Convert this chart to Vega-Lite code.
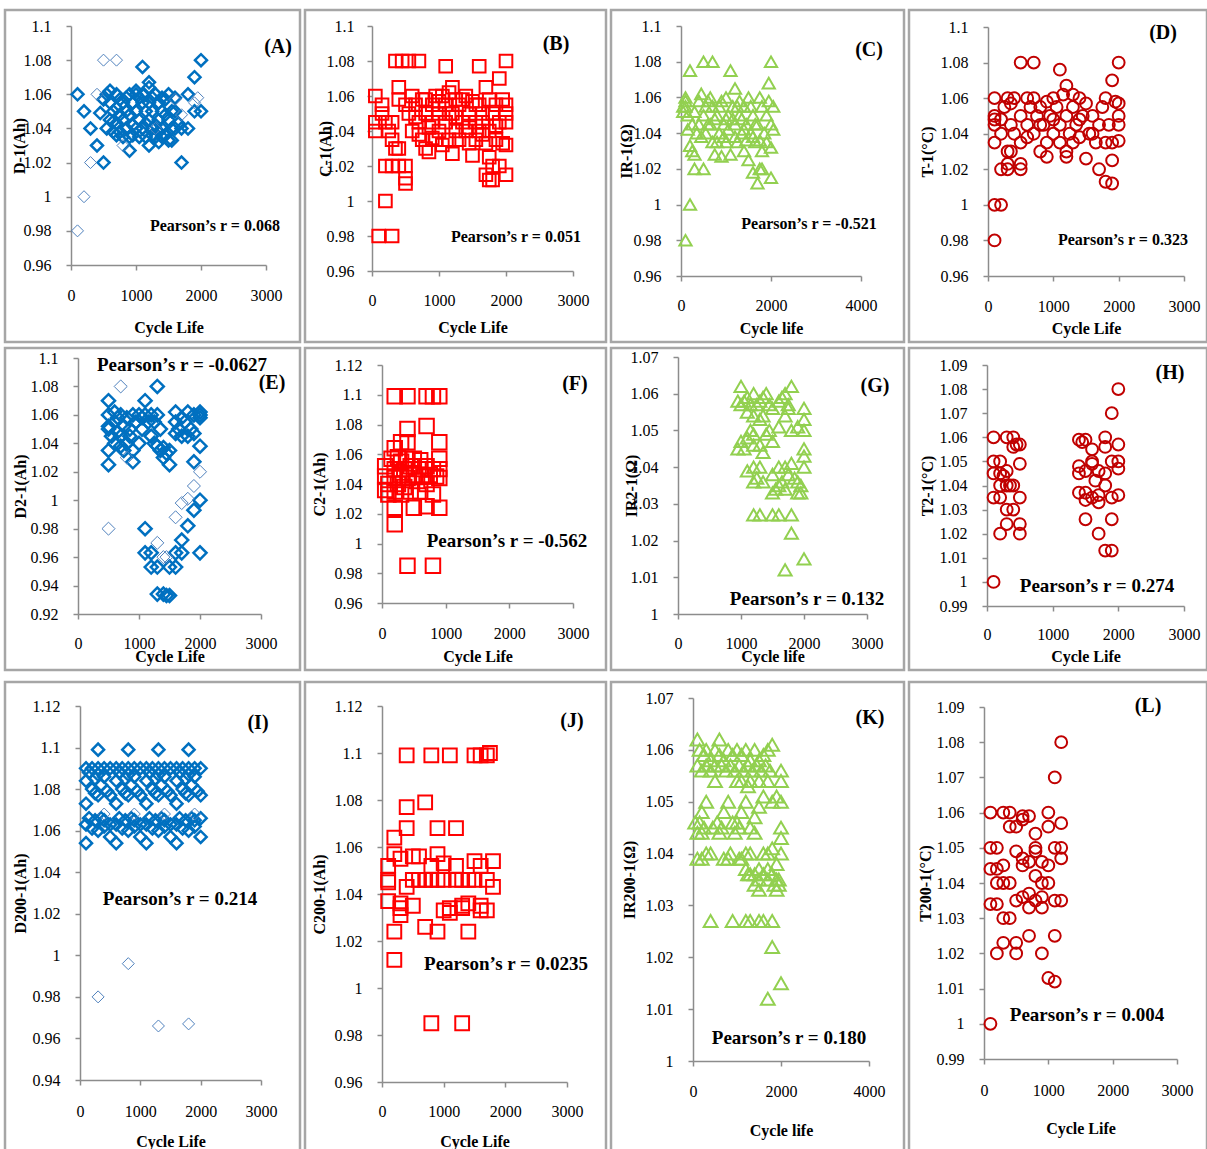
{
"$schema": "https://vega.github.io/schema/vega-lite/v6.json",
"padding": {"left": 3, "top": 8, "right": 0, "bottom": 0},
"background": "white",
"config": {
 "view": {"stroke": "#A6A6A6", "strokeWidth": 2.5},
 "axis": {"grid": false, "domainColor": "#8C8C8C", "tickColor": "#8C8C8C", "domainWidth": 1.5, "tickWidth": 1.5, "tickSize": 5, "labelFont": "Liberation Serif", "labelFontSize": 16, "labelColor": "#000000", "titleFont": "Liberation Serif", "titleFontSize": 16, "titleFontWeight": "bold", "titleColor": "#000000", "labelOverlap": false, "labelFlush": false, "labelPadding": 15},
 "text": {"font": "Liberation Serif", "fontWeight": "bold", "color": "#000000"},
 "point": {"filled": false, "opacity": 1}
},
"datasets": {
 "A": [{"x":100,"y":1.06},{"x":200,"y":1.05},{"x":300,"y":1.04},{"x":400,"y":1.03},{"x":500,"y":1.02},{"x":450,"y":1.049},{"x":500,"y":1.057},{"x":550,"y":1.04},{"x":550,"y":1.06},{"x":600,"y":1.062},{"x":600,"y":1.045},{"x":600,"y":1.055},{"x":650,"y":1.05},{"x":650,"y":1.038},{"x":700,"y":1.06},{"x":700,"y":1.043},{"x":700,"y":1.036},{"x":700,"y":1.052},{"x":750,"y":1.048},{"x":750,"y":1.038},{"x":800,"y":1.055},{"x":800,"y":1.035},{"x":800,"y":1.045},{"x":850,"y":1.05},{"x":850,"y":1.04},{"x":850,"y":1.058},{"x":900,"y":1.027},{"x":900,"y":1.06},{"x":900,"y":1.035},{"x":900,"y":1.048},{"x":950,"y":1.055},{"x":950,"y":1.042},{"x":1000,"y":1.06},{"x":1000,"y":1.04},{"x":1000,"y":1.05},{"x":1000,"y":1.062},{"x":1050,"y":1.058},{"x":1050,"y":1.045},{"x":1050,"y":1.035},{"x":1100,"y":1.076},{"x":1100,"y":1.055},{"x":1100,"y":1.04},{"x":1100,"y":1.06},{"x":1150,"y":1.05},{"x":1150,"y":1.035},{"x":1200,"y":1.067},{"x":1200,"y":1.064},{"x":1200,"y":1.03},{"x":1200,"y":1.045},{"x":1200,"y":1.055},{"x":1250,"y":1.04},{"x":1250,"y":1.05},{"x":1250,"y":1.036},{"x":1300,"y":1.06},{"x":1300,"y":1.042},{"x":1300,"y":1.035},{"x":1350,"y":1.055},{"x":1350,"y":1.045},{"x":1350,"y":1.038},{"x":1400,"y":1.058},{"x":1400,"y":1.04},{"x":1400,"y":1.05},{"x":1400,"y":1.035},{"x":1450,"y":1.048},{"x":1450,"y":1.036},{"x":1500,"y":1.06},{"x":1500,"y":1.033},{"x":1500,"y":1.045},{"x":1550,"y":1.04},{"x":1550,"y":1.05},{"x":1600,"y":1.05},{"x":1600,"y":1.04},{"x":1650,"y":1.043},{"x":1700,"y":1.04},{"x":1700,"y":1.02},{"x":1800,"y":1.06},{"x":1800,"y":1.04},{"x":1900,"y":1.07},{"x":1900,"y":1.05},{"x":2000,"y":1.08},{"x":2000,"y":1.05},{"x":650,"y":1.044},{"x":750,"y":1.057},{"x":950,"y":1.036},{"x":1150,"y":1.043},{"x":1250,"y":1.058},{"x":1350,"y":1.032},{"x":1450,"y":1.057},{"x":1550,"y":1.033},{"x":1600,"y":1.058}],
 "A2": [{"x":100,"y":0.98},{"x":200,"y":1.0},{"x":300,"y":1.02},{"x":400,"y":1.06},{"x":500,"y":1.08},{"x":700,"y":1.08},{"x":800,"y":1.03},{"x":1300,"y":1.04},{"x":1600,"y":1.057},{"x":1700,"y":1.048},{"x":1950,"y":1.058},{"x":1900,"y":1.055}],
 "B": [{"x":50,"y":1.06},{"x":50,"y":1.045},{"x":50,"y":1.04},{"x":100,"y":0.98},{"x":300,"y":0.98},{"x":200,"y":1.0},{"x":150,"y":1.055},{"x":150,"y":1.05},{"x":200,"y":1.045},{"x":250,"y":1.04},{"x":300,"y":1.045},{"x":200,"y":1.02},{"x":300,"y":1.02},{"x":400,"y":1.02},{"x":500,"y":1.02},{"x":500,"y":1.013},{"x":500,"y":1.01},{"x":350,"y":1.03},{"x":400,"y":1.03},{"x":300,"y":1.035},{"x":400,"y":1.065},{"x":350,"y":1.08},{"x":450,"y":1.08},{"x":550,"y":1.08},{"x":700,"y":1.08},{"x":400,"y":1.058},{"x":500,"y":1.055},{"x":550,"y":1.05},{"x":600,"y":1.06},{"x":600,"y":1.04},{"x":650,"y":1.055},{"x":700,"y":1.045},{"x":700,"y":1.038},{"x":750,"y":1.058},{"x":750,"y":1.035},{"x":800,"y":1.03},{"x":800,"y":1.05},{"x":850,"y":1.042},{"x":850,"y":1.028},{"x":900,"y":1.055},{"x":900,"y":1.045},{"x":950,"y":1.06},{"x":950,"y":1.035},{"x":1000,"y":1.05},{"x":1000,"y":1.04},{"x":1050,"y":1.06},{"x":1050,"y":1.032},{"x":1100,"y":1.077},{"x":1100,"y":1.055},{"x":1100,"y":1.045},{"x":1150,"y":1.062},{"x":1150,"y":1.035},{"x":1200,"y":1.065},{"x":1200,"y":1.05},{"x":1200,"y":1.027},{"x":1250,"y":1.058},{"x":1250,"y":1.04},{"x":1300,"y":1.055},{"x":1300,"y":1.035},{"x":1350,"y":1.045},{"x":1400,"y":1.06},{"x":1400,"y":1.04},{"x":1450,"y":1.05},{"x":1450,"y":1.033},{"x":1500,"y":1.057},{"x":1500,"y":1.026},{"x":1550,"y":1.045},{"x":1550,"y":1.035},{"x":1600,"y":1.077},{"x":1600,"y":1.055},{"x":1600,"y":1.04},{"x":1650,"y":1.05},{"x":1650,"y":1.045},{"x":1700,"y":1.065},{"x":1700,"y":1.033},{"x":1700,"y":1.015},{"x":1750,"y":1.058},{"x":1750,"y":1.04},{"x":1750,"y":1.025},{"x":1750,"y":1.012},{"x":1800,"y":1.05},{"x":1800,"y":1.02},{"x":1800,"y":1.012},{"x":1850,"y":1.055},{"x":1850,"y":1.035},{"x":1850,"y":1.043},{"x":1900,"y":1.07},{"x":1900,"y":1.045},{"x":1900,"y":1.02},{"x":1950,"y":1.058},{"x":1950,"y":1.033},{"x":2000,"y":1.08},{"x":2000,"y":1.055},{"x":2000,"y":1.05},{"x":2000,"y":1.045},{"x":2000,"y":1.032},{"x":2000,"y":1.015},{"x":650,"y":1.048},{"x":800,"y":1.058},{"x":900,"y":1.036},{"x":1000,"y":1.057},{"x":1150,"y":1.05},{"x":1250,"y":1.048},{"x":1350,"y":1.058},{"x":1450,"y":1.042},{"x":1550,"y":1.055},{"x":1650,"y":1.038}],
 "C": [{"x":50,"y":1.055},{"x":50,"y":1.052},{"x":100,"y":1.06},{"x":100,"y":1.058},{"x":100,"y":1.055},{"x":150,"y":1.05},{"x":150,"y":1.042},{"x":200,"y":1.075},{"x":100,"y":0.98},{"x":200,"y":1.0},{"x":200,"y":1.033},{"x":250,"y":1.03},{"x":300,"y":1.02},{"x":300,"y":1.028},{"x":500,"y":1.02},{"x":350,"y":1.04},{"x":400,"y":1.045},{"x":400,"y":1.058},{"x":450,"y":1.062},{"x":500,"y":1.08},{"x":700,"y":1.08},{"x":500,"y":1.05},{"x":550,"y":1.04},{"x":600,"y":1.058},{"x":650,"y":1.045},{"x":700,"y":1.035},{"x":700,"y":1.055},{"x":750,"y":1.028},{"x":800,"y":1.05},{"x":850,"y":1.04},{"x":900,"y":1.027},{"x":900,"y":1.058},{"x":950,"y":1.045},{"x":1000,"y":1.035},{"x":1000,"y":1.06},{"x":1050,"y":1.05},{"x":1100,"y":1.075},{"x":1100,"y":1.028},{"x":1150,"y":1.055},{"x":1200,"y":1.065},{"x":1200,"y":1.045},{"x":1250,"y":1.035},{"x":1300,"y":1.058},{"x":1300,"y":1.05},{"x":1350,"y":1.04},{"x":1400,"y":1.03},{"x":1400,"y":1.055},{"x":1450,"y":1.045},{"x":1500,"y":1.025},{"x":1500,"y":1.06},{"x":1550,"y":1.04},{"x":1600,"y":1.018},{"x":1600,"y":1.05},{"x":1650,"y":1.035},{"x":1700,"y":1.012},{"x":1700,"y":1.045},{"x":1750,"y":1.06},{"x":1750,"y":1.02},{"x":1800,"y":1.02},{"x":1800,"y":1.03},{"x":1800,"y":1.055},{"x":1850,"y":1.04},{"x":1900,"y":1.035},{"x":1900,"y":1.05},{"x":1950,"y":1.068},{"x":1950,"y":1.058},{"x":2000,"y":1.08},{"x":2000,"y":1.015},{"x":2000,"y":1.045},{"x":2050,"y":1.055},{"x":2050,"y":1.042},{"x":2000,"y":1.032},{"x":600,"y":1.045},{"x":800,"y":1.035},{"x":1000,"y":1.048},{"x":1200,"y":1.038},{"x":1400,"y":1.042},{"x":1600,"y":1.038},{"x":300,"y":1.052},{"x":250,"y":1.045},{"x":450,"y":1.038},{"x":550,"y":1.055},{"x":650,"y":1.06},{"x":750,"y":1.048},{"x":850,"y":1.055},{"x":950,"y":1.038},{"x":1050,"y":1.042},{"x":1150,"y":1.048},{"x":1250,"y":1.055},{"x":1350,"y":1.048},{"x":1450,"y":1.036},{"x":1550,"y":1.055},{"x":1650,"y":1.045},{"x":1750,"y":1.036}],
 "D": [{"x":100,"y":1.06},{"x":100,"y":1.05},{"x":100,"y":1.048},{"x":100,"y":1.045},{"x":100,"y":1.035},{"x":100,"y":0.98},{"x":100,"y":1.0},{"x":200,"y":1.0},{"x":200,"y":1.02},{"x":200,"y":1.048},{"x":200,"y":1.04},{"x":250,"y":1.055},{"x":300,"y":1.02},{"x":300,"y":1.023},{"x":300,"y":1.03},{"x":300,"y":1.06},{"x":350,"y":1.057},{"x":350,"y":1.045},{"x":350,"y":1.03},{"x":400,"y":1.06},{"x":400,"y":1.04},{"x":500,"y":1.02},{"x":500,"y":1.023},{"x":500,"y":1.035},{"x":500,"y":1.08},{"x":500,"y":1.05},{"x":600,"y":1.06},{"x":600,"y":1.045},{"x":650,"y":1.055},{"x":700,"y":1.08},{"x":700,"y":1.06},{"x":700,"y":1.04},{"x":750,"y":1.05},{"x":800,"y":1.03},{"x":800,"y":1.055},{"x":850,"y":1.045},{"x":900,"y":1.027},{"x":900,"y":1.035},{"x":900,"y":1.058},{"x":950,"y":1.05},{"x":1000,"y":1.06},{"x":1000,"y":1.04},{"x":1050,"y":1.055},{"x":1100,"y":1.076},{"x":1100,"y":1.045},{"x":1100,"y":1.035},{"x":1150,"y":1.062},{"x":1200,"y":1.067},{"x":1200,"y":1.027},{"x":1200,"y":1.03},{"x":1200,"y":1.05},{"x":1250,"y":1.04},{"x":1300,"y":1.055},{"x":1300,"y":1.035},{"x":1350,"y":1.045},{"x":1400,"y":1.06},{"x":1400,"y":1.038},{"x":1450,"y":1.05},{"x":1500,"y":1.026},{"x":1500,"y":1.057},{"x":1550,"y":1.04},{"x":1600,"y":1.05},{"x":1650,"y":1.035},{"x":1700,"y":1.02},{"x":1700,"y":1.045},{"x":1750,"y":1.055},{"x":1800,"y":1.013},{"x":1800,"y":1.06},{"x":1800,"y":1.035},{"x":1850,"y":1.045},{"x":1900,"y":1.012},{"x":1900,"y":1.025},{"x":1900,"y":1.07},{"x":1900,"y":1.035},{"x":1950,"y":1.058},{"x":2000,"y":1.08},{"x":2000,"y":1.057},{"x":2000,"y":1.05},{"x":2000,"y":1.045},{"x":2000,"y":1.036},{"x":600,"y":1.038},{"x":1000,"y":1.048},{"x":1400,"y":1.048},{"x":1600,"y":1.04},{"x":1300,"y":1.062},{"x":800,"y":1.045}],
 "E": [{"x":500,"y":1.07},{"x":500,"y":1.06},{"x":500,"y":1.052},{"x":500,"y":1.05},{"x":500,"y":1.035},{"x":500,"y":1.025},{"x":550,"y":1.045},{"x":600,"y":1.062},{"x":600,"y":1.055},{"x":600,"y":1.04},{"x":650,"y":1.058},{"x":650,"y":1.048},{"x":700,"y":1.06},{"x":700,"y":1.045},{"x":700,"y":1.038},{"x":750,"y":1.052},{"x":750,"y":1.035},{"x":800,"y":1.058},{"x":800,"y":1.04},{"x":850,"y":1.05},{"x":850,"y":1.045},{"x":900,"y":1.06},{"x":900,"y":1.027},{"x":900,"y":1.035},{"x":950,"y":1.055},{"x":1000,"y":1.06},{"x":1000,"y":1.04},{"x":1050,"y":1.058},{"x":1050,"y":1.05},{"x":1100,"y":1.07},{"x":1100,"y":1.06},{"x":1150,"y":1.055},{"x":1200,"y":1.06},{"x":1200,"y":1.045},{"x":1250,"y":1.04},{"x":1250,"y":1.055},{"x":1300,"y":1.08},{"x":1300,"y":1.06},{"x":1300,"y":1.038},{"x":1350,"y":1.035},{"x":1350,"y":1.05},{"x":1400,"y":1.03},{"x":1400,"y":1.037},{"x":1450,"y":1.033},{"x":1500,"y":1.025},{"x":1500,"y":1.035},{"x":1600,"y":1.062},{"x":1600,"y":1.055},{"x":1600,"y":1.047},{"x":1650,"y":1.05},{"x":1700,"y":1.058},{"x":1700,"y":1.045},{"x":1750,"y":1.055},{"x":1800,"y":1.062},{"x":1800,"y":1.045},{"x":1850,"y":1.05},{"x":1900,"y":1.06},{"x":1900,"y":1.047},{"x":1900,"y":1.027},{"x":2000,"y":1.062},{"x":2000,"y":1.06},{"x":2000,"y":1.058},{"x":2000,"y":1.038},{"x":1100,"y":0.98},{"x":1100,"y":0.963},{"x":1200,"y":0.963},{"x":1200,"y":0.953},{"x":1300,"y":0.953},{"x":1300,"y":0.934},{"x":1400,"y":0.934},{"x":1450,"y":0.933},{"x":1500,"y":0.953},{"x":1500,"y":0.933},{"x":1600,"y":0.963},{"x":1600,"y":0.953},{"x":1700,"y":0.972},{"x":1700,"y":0.963},{"x":1800,"y":0.982},{"x":1900,"y":0.993},{"x":2000,"y":1.0},{"x":2000,"y":0.963}],
 "E2": [{"x":500,"y":0.98},{"x":700,"y":1.08},{"x":1300,"y":0.97},{"x":1400,"y":0.96},{"x":1450,"y":0.96},{"x":1600,"y":0.988},{"x":1700,"y":0.998},{"x":1800,"y":1.001},{"x":1900,"y":1.01},{"x":2000,"y":1.02},{"x":800,"y":1.03}],
 "F": [{"x":200,"y":1.099},{"x":400,"y":1.099},{"x":700,"y":1.099},{"x":800,"y":1.099},{"x":900,"y":1.099},{"x":400,"y":1.077},{"x":700,"y":1.079},{"x":900,"y":1.068},{"x":300,"y":1.068},{"x":400,"y":1.068},{"x":200,"y":1.064},{"x":200,"y":1.024},{"x":200,"y":1.013},{"x":500,"y":1.024},{"x":700,"y":1.025},{"x":900,"y":1.024},{"x":400,"y":0.985},{"x":800,"y":0.985},{"x":50,"y":1.052},{"x":50,"y":1.045},{"x":50,"y":1.036},{"x":100,"y":1.04},{"x":100,"y":1.033},{"x":150,"y":1.057},{"x":200,"y":1.05},{"x":200,"y":1.044},{"x":200,"y":1.035},{"x":250,"y":1.058},{"x":250,"y":1.04},{"x":300,"y":1.055},{"x":300,"y":1.046},{"x":300,"y":1.033},{"x":350,"y":1.05},{"x":350,"y":1.038},{"x":400,"y":1.057},{"x":400,"y":1.044},{"x":450,"y":1.052},{"x":450,"y":1.035},{"x":500,"y":1.057},{"x":500,"y":1.046},{"x":550,"y":1.042},{"x":600,"y":1.056},{"x":600,"y":1.05},{"x":600,"y":1.035},{"x":650,"y":1.045},{"x":700,"y":1.052},{"x":700,"y":1.04},{"x":750,"y":1.046},{"x":800,"y":1.05},{"x":800,"y":1.033},{"x":850,"y":1.045},{"x":900,"y":1.057},{"x":900,"y":1.05},{"x":900,"y":1.044}],
 "G": [{"x":1000,"y":1.062},{"x":1800,"y":1.062},{"x":950,"y":1.058},{"x":1000,"y":1.057},{"x":1050,"y":1.058},{"x":1100,"y":1.059},{"x":1150,"y":1.057},{"x":1200,"y":1.06},{"x":1250,"y":1.057},{"x":1300,"y":1.058},{"x":1350,"y":1.059},{"x":1400,"y":1.06},{"x":1450,"y":1.057},{"x":1500,"y":1.056},{"x":1600,"y":1.058},{"x":1650,"y":1.059},{"x":1700,"y":1.06},{"x":1750,"y":1.057},{"x":1100,"y":1.055},{"x":1200,"y":1.054},{"x":1300,"y":1.053},{"x":1350,"y":1.054},{"x":1700,"y":1.054},{"x":1600,"y":1.051},{"x":1750,"y":1.056},{"x":2000,"y":1.056},{"x":2000,"y":1.053},{"x":1800,"y":1.05},{"x":1900,"y":1.051},{"x":2000,"y":1.05},{"x":950,"y":1.045},{"x":1000,"y":1.047},{"x":1050,"y":1.045},{"x":1100,"y":1.048},{"x":1150,"y":1.05},{"x":1200,"y":1.049},{"x":1200,"y":1.046},{"x":1300,"y":1.046},{"x":1350,"y":1.044},{"x":1400,"y":1.049},{"x":1450,"y":1.05},{"x":1500,"y":1.047},{"x":2000,"y":1.045},{"x":2000,"y":1.043},{"x":1100,"y":1.039},{"x":1200,"y":1.04},{"x":1250,"y":1.037},{"x":1300,"y":1.04},{"x":1350,"y":1.036},{"x":1200,"y":1.036},{"x":1500,"y":1.038},{"x":1550,"y":1.034},{"x":1600,"y":1.04},{"x":1650,"y":1.036},{"x":1700,"y":1.04},{"x":1750,"y":1.038},{"x":1800,"y":1.041},{"x":1850,"y":1.037},{"x":1900,"y":1.036},{"x":1950,"y":1.035},{"x":1950,"y":1.033},{"x":2000,"y":1.04},{"x":1500,"y":1.033},{"x":1600,"y":1.035},{"x":1700,"y":1.034},{"x":1900,"y":1.033},{"x":1200,"y":1.027},{"x":1300,"y":1.027},{"x":1500,"y":1.027},{"x":1600,"y":1.027},{"x":1800,"y":1.027},{"x":1800,"y":1.022},{"x":1700,"y":1.012},{"x":2000,"y":1.015}],
 "H": [{"x":100,"y":1.06},{"x":300,"y":1.06},{"x":400,"y":1.06},{"x":450,"y":1.057},{"x":500,"y":1.057},{"x":400,"y":1.056},{"x":100,"y":1.05},{"x":200,"y":1.05},{"x":500,"y":1.049},{"x":100,"y":1.045},{"x":200,"y":1.045},{"x":300,"y":1.046},{"x":250,"y":1.044},{"x":200,"y":1.04},{"x":300,"y":1.04},{"x":400,"y":1.04},{"x":350,"y":1.04},{"x":100,"y":1.035},{"x":200,"y":1.035},{"x":500,"y":1.035},{"x":300,"y":1.03},{"x":400,"y":1.03},{"x":300,"y":1.024},{"x":500,"y":1.024},{"x":200,"y":1.02},{"x":500,"y":1.02},{"x":100,"y":1.0},{"x":1400,"y":1.059},{"x":1450,"y":1.058},{"x":1500,"y":1.059},{"x":1800,"y":1.06},{"x":1600,"y":1.055},{"x":1800,"y":1.056},{"x":2000,"y":1.057},{"x":1600,"y":1.05},{"x":1900,"y":1.05},{"x":2000,"y":1.05},{"x":2000,"y":1.047},{"x":1400,"y":1.048},{"x":1400,"y":1.045},{"x":1500,"y":1.046},{"x":1600,"y":1.049},{"x":1700,"y":1.046},{"x":1800,"y":1.045},{"x":1650,"y":1.042},{"x":1400,"y":1.037},{"x":1500,"y":1.037},{"x":1600,"y":1.035},{"x":1700,"y":1.033},{"x":1800,"y":1.04},{"x":1900,"y":1.035},{"x":2000,"y":1.036},{"x":1500,"y":1.034},{"x":1700,"y":1.036},{"x":1500,"y":1.026},{"x":1900,"y":1.026},{"x":1700,"y":1.02},{"x":1800,"y":1.013},{"x":1900,"y":1.013},{"x":1900,"y":1.07},{"x":2000,"y":1.08}],
 "I": [{"x":100,"y":1.09},{"x":100,"y":1.084},{"x":100,"y":1.073},{"x":100,"y":1.063},{"x":100,"y":1.054},{"x":150,"y":1.088},{"x":150,"y":1.066},{"x":200,"y":1.09},{"x":200,"y":1.08},{"x":200,"y":1.061},{"x":250,"y":1.085},{"x":250,"y":1.078},{"x":250,"y":1.065},{"x":300,"y":1.099},{"x":300,"y":1.09},{"x":300,"y":1.087},{"x":300,"y":1.077},{"x":300,"y":1.06},{"x":350,"y":1.082},{"x":350,"y":1.066},{"x":400,"y":1.09},{"x":400,"y":1.086},{"x":400,"y":1.065},{"x":400,"y":1.062},{"x":450,"y":1.079},{"x":500,"y":1.09},{"x":500,"y":1.077},{"x":500,"y":1.057},{"x":500,"y":1.063},
  {"x":600,"y":1.09},{"x":600,"y":1.084},{"x":600,"y":1.073},{"x":600,"y":1.063},{"x":600,"y":1.054},{"x":650,"y":1.088},{"x":650,"y":1.066},{"x":700,"y":1.09},{"x":700,"y":1.08},{"x":700,"y":1.061},{"x":750,"y":1.085},{"x":750,"y":1.078},{"x":750,"y":1.065},{"x":800,"y":1.099},{"x":800,"y":1.09},{"x":800,"y":1.087},{"x":800,"y":1.077},{"x":800,"y":1.06},{"x":850,"y":1.082},{"x":850,"y":1.066},{"x":900,"y":1.09},{"x":900,"y":1.086},{"x":900,"y":1.065},{"x":900,"y":1.062},{"x":950,"y":1.079},{"x":1000,"y":1.09},{"x":1000,"y":1.077},{"x":1000,"y":1.057},{"x":1000,"y":1.063},
  {"x":1100,"y":1.09},{"x":1100,"y":1.084},{"x":1100,"y":1.073},{"x":1100,"y":1.063},{"x":1100,"y":1.054},{"x":1150,"y":1.088},{"x":1150,"y":1.066},{"x":1200,"y":1.09},{"x":1200,"y":1.08},{"x":1200,"y":1.061},{"x":1250,"y":1.085},{"x":1250,"y":1.078},{"x":1250,"y":1.065},{"x":1300,"y":1.099},{"x":1300,"y":1.09},{"x":1300,"y":1.087},{"x":1300,"y":1.077},{"x":1300,"y":1.06},{"x":1350,"y":1.082},{"x":1350,"y":1.066},{"x":1400,"y":1.09},{"x":1400,"y":1.086},{"x":1400,"y":1.065},{"x":1400,"y":1.062},{"x":1450,"y":1.079},{"x":1500,"y":1.09},{"x":1500,"y":1.077},{"x":1500,"y":1.057},{"x":1500,"y":1.063},
  {"x":1600,"y":1.09},{"x":1600,"y":1.084},{"x":1600,"y":1.073},{"x":1600,"y":1.063},{"x":1600,"y":1.054},{"x":1650,"y":1.088},{"x":1650,"y":1.066},{"x":1700,"y":1.09},{"x":1700,"y":1.08},{"x":1700,"y":1.061},{"x":1750,"y":1.085},{"x":1750,"y":1.078},{"x":1750,"y":1.065},{"x":1800,"y":1.099},{"x":1800,"y":1.09},{"x":1800,"y":1.087},{"x":1800,"y":1.077},{"x":1800,"y":1.06},{"x":1850,"y":1.082},{"x":1850,"y":1.066},{"x":1900,"y":1.09},{"x":1900,"y":1.086},{"x":1900,"y":1.065},{"x":1900,"y":1.062},{"x":1950,"y":1.079},{"x":2000,"y":1.09},{"x":2000,"y":1.077},{"x":2000,"y":1.057},{"x":2000,"y":1.066}],
 "I2": [{"x":400,"y":1.068},{"x":900,"y":1.068},{"x":1400,"y":1.068},{"x":1900,"y":1.068},{"x":300,"y":0.98},{"x":800,"y":0.996},{"x":1300,"y":0.966},{"x":1800,"y":0.967}],
 "J": [{"x":400,"y":1.099},{"x":800,"y":1.099},{"x":1100,"y":1.099},{"x":1500,"y":1.099},{"x":1600,"y":1.099},{"x":1700,"y":1.099},{"x":1750,"y":1.1},{"x":400,"y":1.077},{"x":700,"y":1.079},{"x":400,"y":1.068},{"x":900,"y":1.068},{"x":1200,"y":1.068},{"x":200,"y":1.064},{"x":200,"y":1.057},{"x":300,"y":1.055},{"x":500,"y":1.056},{"x":600,"y":1.056},{"x":900,"y":1.057},{"x":1000,"y":1.053},{"x":1200,"y":1.052},{"x":1500,"y":1.054},{"x":1600,"y":1.052},{"x":1800,"y":1.054},{"x":100,"y":1.052},{"x":800,"y":1.052},{"x":100,"y":1.046},{"x":100,"y":1.045},{"x":400,"y":1.043},{"x":500,"y":1.046},{"x":600,"y":1.046},{"x":700,"y":1.046},{"x":800,"y":1.046},{"x":900,"y":1.046},{"x":1000,"y":1.046},{"x":1200,"y":1.046},{"x":1300,"y":1.046},{"x":1400,"y":1.046},{"x":1500,"y":1.046},{"x":1700,"y":1.046},{"x":1800,"y":1.043},{"x":100,"y":1.037},{"x":300,"y":1.036},{"x":300,"y":1.034},{"x":300,"y":1.031},{"x":500,"y":1.035},{"x":1000,"y":1.033},{"x":1100,"y":1.034},{"x":1100,"y":1.032},{"x":1300,"y":1.035},{"x":1300,"y":1.034},{"x":1400,"y":1.036},{"x":1600,"y":1.035},{"x":1700,"y":1.033},{"x":1600,"y":1.033},{"x":200,"y":1.024},{"x":700,"y":1.026},{"x":900,"y":1.024},{"x":1400,"y":1.024},{"x":200,"y":1.012},{"x":800,"y":0.985},{"x":1300,"y":0.985}],
 "K": [{"x":100,"y":1.062},{"x":600,"y":1.062},{"x":1800,"y":1.061},{"x":150,"y":1.06},{"x":250,"y":1.059},{"x":300,"y":1.06},{"x":400,"y":1.058},{"x":500,"y":1.06},{"x":600,"y":1.059},{"x":700,"y":1.058},{"x":800,"y":1.06},{"x":900,"y":1.059},{"x":1000,"y":1.06},{"x":1100,"y":1.059},{"x":1200,"y":1.06},{"x":1300,"y":1.058},{"x":1400,"y":1.06},{"x":1500,"y":1.058},{"x":1600,"y":1.059},{"x":1700,"y":1.06},{"x":100,"y":1.057},{"x":200,"y":1.056},{"x":300,"y":1.057},{"x":400,"y":1.056},{"x":500,"y":1.057},{"x":650,"y":1.057},{"x":750,"y":1.056},{"x":850,"y":1.057},{"x":950,"y":1.056},{"x":1050,"y":1.057},{"x":1150,"y":1.056},{"x":1250,"y":1.057},{"x":1350,"y":1.056},{"x":1450,"y":1.057},{"x":1550,"y":1.056},{"x":1650,"y":1.057},{"x":1750,"y":1.056},{"x":2000,"y":1.056},{"x":500,"y":1.054},{"x":1000,"y":1.054},{"x":1100,"y":1.054},{"x":1250,"y":1.053},{"x":1300,"y":1.054},{"x":1500,"y":1.054},{"x":1700,"y":1.054},{"x":2000,"y":1.054},{"x":300,"y":1.05},{"x":800,"y":1.05},{"x":1200,"y":1.05},{"x":1600,"y":1.051},{"x":1800,"y":1.05},{"x":1900,"y":1.051},{"x":2000,"y":1.05},{"x":1500,"y":1.049},{"x":200,"y":1.048},{"x":700,"y":1.048},{"x":1100,"y":1.048},{"x":1400,"y":1.047},{"x":50,"y":1.046},{"x":150,"y":1.046},{"x":250,"y":1.045},{"x":450,"y":1.045},{"x":550,"y":1.046},{"x":650,"y":1.045},{"x":900,"y":1.046},{"x":1000,"y":1.046},{"x":1050,"y":1.045},{"x":1300,"y":1.045},{"x":1400,"y":1.044},{"x":100,"y":1.044},{"x":200,"y":1.044},{"x":600,"y":1.044},{"x":950,"y":1.044},{"x":2000,"y":1.045},{"x":2000,"y":1.043},{"x":300,"y":1.04},{"x":400,"y":1.04},{"x":700,"y":1.039},{"x":850,"y":1.04},{"x":1050,"y":1.039},{"x":1200,"y":1.04},{"x":1300,"y":1.04},{"x":1600,"y":1.04},{"x":1700,"y":1.04},{"x":2000,"y":1.04},{"x":100,"y":1.039},{"x":200,"y":1.039},{"x":800,"y":1.039},{"x":1100,"y":1.039},{"x":1800,"y":1.041},{"x":1900,"y":1.038},{"x":1200,"y":1.037},{"x":1250,"y":1.036},{"x":1400,"y":1.036},{"x":1500,"y":1.037},{"x":1600,"y":1.036},{"x":1700,"y":1.037},{"x":1800,"y":1.036},{"x":1900,"y":1.035},{"x":1950,"y":1.035},{"x":1300,"y":1.036},{"x":1500,"y":1.035},{"x":1700,"y":1.035},{"x":1850,"y":1.034},{"x":1950,"y":1.034},{"x":1400,"y":1.034},{"x":1500,"y":1.033},{"x":1900,"y":1.033},{"x":400,"y":1.027},{"x":900,"y":1.027},{"x":1200,"y":1.027},{"x":1300,"y":1.027},{"x":1500,"y":1.027},{"x":1600,"y":1.027},{"x":1800,"y":1.027},{"x":1800,"y":1.022},{"x":1700,"y":1.012},{"x":2000,"y":1.015}],
 "L": [{"x":100,"y":1.06},{"x":300,"y":1.06},{"x":400,"y":1.06},{"x":600,"y":1.059},{"x":700,"y":1.059},{"x":1000,"y":1.06},{"x":400,"y":1.056},{"x":500,"y":1.056},{"x":600,"y":1.058},{"x":1000,"y":1.056},{"x":1200,"y":1.057},{"x":800,"y":1.054},{"x":100,"y":1.05},{"x":200,"y":1.05},{"x":500,"y":1.049},{"x":600,"y":1.047},{"x":800,"y":1.05},{"x":800,"y":1.049},{"x":1100,"y":1.05},{"x":1200,"y":1.05},{"x":1200,"y":1.047},{"x":100,"y":1.044},{"x":200,"y":1.044},{"x":300,"y":1.045},{"x":600,"y":1.045},{"x":700,"y":1.046},{"x":900,"y":1.046},{"x":1000,"y":1.045},{"x":800,"y":1.042},{"x":200,"y":1.04},{"x":300,"y":1.04},{"x":400,"y":1.04},{"x":900,"y":1.04},{"x":1000,"y":1.04},{"x":100,"y":1.034},{"x":200,"y":1.034},{"x":500,"y":1.035},{"x":600,"y":1.036},{"x":700,"y":1.037},{"x":700,"y":1.033},{"x":800,"y":1.035},{"x":900,"y":1.036},{"x":900,"y":1.033},{"x":1100,"y":1.035},{"x":1200,"y":1.035},{"x":300,"y":1.03},{"x":400,"y":1.03},{"x":300,"y":1.023},{"x":500,"y":1.023},{"x":700,"y":1.025},{"x":1100,"y":1.025},{"x":200,"y":1.02},{"x":500,"y":1.02},{"x":900,"y":1.02},{"x":1000,"y":1.013},{"x":1100,"y":1.012},{"x":1100,"y":1.07},{"x":1200,"y":1.08},{"x":100,"y":1.0}]
},
"spacing": 8,
"vconcat": [
 {"spacing": 2, "vconcat": [
  {"spacing": 1, "hconcat": [
   {"width": 295, "height": 332, "layer": [
    {"data": {"name": "A"}, "mark": {"type": "point", "shape": "diamond", "size": 144, "strokeWidth": 2.5, "color": "#0070C0"},
     "encoding": {
      "x": {"field": "x", "type": "quantitative", "scale": {"domain": [0, 3000], "range": [66, 261], "nice": false, "zero": false}, "axis": {"title": "Cycle Life", "values": [0, 1000, 2000, 3000], "tickCount": 20, "format": "d", "offset": -77, "labelPadding": 17, "titlePadding": 16, "labelOverlap": false}},
      "y": {"field": "y", "type": "quantitative", "scale": {"domain": [0.96, 1.1], "range": [255, 16], "nice": false, "zero": false}, "axis": {"title": "D-1(Ah)", "values": [0.96, 0.98, 1, 1.02, 1.04, 1.06, 1.08, 1.1], "tickCount": 20, "format": "~g", "offset": -66, "titlePadding": -4, "labelOverlap": false}}}},
    {"data": {"name": "A2"}, "mark": {"type": "point", "shape": "diamond", "size": 144, "strokeWidth": 1, "color": "#4F81BD"},
     "encoding": {"x": {"field": "x", "type": "quantitative"}, "y": {"field": "y", "type": "quantitative"}}},
    {"data": {"values": [{}]}, "mark": {"type": "text", "fontSize": 20}, "encoding": {"x": {"datum": 3185, "type": "quantitative"}, "y": {"datum": 1.0877, "type": "quantitative"}, "text": {"value": "(A)"}}},
    {"data": {"values": [{}]}, "mark": {"type": "text", "fontSize": 16}, "encoding": {"x": {"datum": 2215, "type": "quantitative"}, "y": {"datum": 0.9828, "type": "quantitative"}, "text": {"value": "Pearson’s r = 0.068"}}}
   ]},
   {"width": 301, "height": 332, "layer": [
    {"data": {"name": "B"}, "mark": {"type": "point", "shape": "square", "size": 160, "strokeWidth": 2, "color": "#FF0000"},
     "encoding": {
      "x": {"field": "x", "type": "quantitative", "scale": {"domain": [0, 3000], "range": [67, 268], "nice": false, "zero": false}, "axis": {"title": "Cycle Life", "values": [0, 1000, 2000, 3000], "tickCount": 20, "format": "d", "offset": -71, "labelPadding": 16, "titlePadding": 11, "labelOverlap": false}},
      "y": {"field": "y", "type": "quantitative", "scale": {"domain": [0.96, 1.1], "range": [261, 16], "nice": false, "zero": false}, "axis": {"title": "C-1(Ah)", "values": [0.96, 0.98, 1, 1.02, 1.04, 1.06, 1.08, 1.1], "tickCount": 20, "format": "~g", "offset": -67, "titlePadding": -7, "labelOverlap": false, "labelPadding": 13}}}},
    {"data": {"values": [{}]}, "mark": {"type": "text", "fontSize": 20}, "encoding": {"x": {"datum": 2746, "type": "quantitative"}, "y": {"datum": 1.0897, "type": "quantitative"}, "text": {"value": "(B)"}}},
    {"data": {"values": [{}]}, "mark": {"type": "text", "fontSize": 16}, "encoding": {"x": {"datum": 2149, "type": "quantitative"}, "y": {"datum": 0.9794, "type": "quantitative"}, "text": {"value": "Pearson’s r = 0.051"}}}
   ]},
   {"width": 293, "height": 332, "layer": [
    {"data": {"name": "C"}, "mark": {"type": "point", "shape": "triangle-up", "size": 150, "strokeWidth": 2, "color": "#92D050"},
     "encoding": {
      "x": {"field": "x", "type": "quantitative", "scale": {"domain": [0, 4000], "range": [70, 250], "nice": false, "zero": false}, "axis": {"title": "Cycle life", "values": [0, 2000, 4000], "tickCount": 20, "format": "d", "offset": -66, "labelPadding": 16, "titlePadding": 7, "labelOverlap": false}},
      "y": {"field": "y", "type": "quantitative", "scale": {"domain": [0.96, 1.1], "range": [266, 16], "nice": false, "zero": false}, "axis": {"title": "IR-1(Ω)", "values": [0.96, 0.98, 1, 1.02, 1.04, 1.06, 1.08, 1.1], "tickCount": 20, "format": "~g", "offset": -70, "titlePadding": -1, "labelOverlap": false}}}},
    {"data": {"values": [{}]}, "mark": {"type": "text", "fontSize": 20}, "encoding": {"x": {"datum": 4178, "type": "quantitative"}, "y": {"datum": 1.0866, "type": "quantitative"}, "text": {"value": "(C)"}}},
    {"data": {"values": [{}]}, "mark": {"type": "text", "fontSize": 16}, "encoding": {"x": {"datum": 2844, "type": "quantitative"}, "y": {"datum": 0.9891, "type": "quantitative"}, "text": {"value": "Pearson’s r = -0.521"}}}
   ]},
   {"width": 298, "height": 332, "layer": [
    {"data": {"name": "D"}, "mark": {"type": "point", "shape": "circle", "size": 140, "strokeWidth": 2, "color": "#C00000"},
     "encoding": {
      "x": {"field": "x", "type": "quantitative", "scale": {"domain": [0, 3000], "range": [79, 275], "nice": false, "zero": false}, "axis": {"title": "Cycle Life", "values": [0, 1000, 2000, 3000], "tickCount": 20, "format": "d", "offset": -66, "labelPadding": 17, "titlePadding": 6, "labelOverlap": false}},
      "y": {"field": "y", "type": "quantitative", "scale": {"domain": [0.96, 1.1], "range": [266, 17], "nice": false, "zero": false}, "axis": {"title": "T-1(°C)", "values": [0.96, 0.98, 1, 1.02, 1.04, 1.06, 1.08, 1.1], "tickCount": 20, "format": "~g", "offset": -79, "titlePadding": 5, "labelOverlap": false}}}},
    {"data": {"values": [{}]}, "mark": {"type": "text", "fontSize": 20}, "encoding": {"x": {"datum": 2679, "type": "quantitative"}, "y": {"datum": 1.0966, "type": "quantitative"}, "text": {"value": "(D)"}}},
    {"data": {"values": [{}]}, "mark": {"type": "text", "fontSize": 16}, "encoding": {"x": {"datum": 2066, "type": "quantitative"}, "y": {"datum": 0.9802, "type": "quantitative"}, "text": {"value": "Pearson’s r = 0.323"}}}
   ]}
  ]},
  {"spacing": 1, "hconcat": [
   {"width": 295, "height": 322, "layer": [
    {"data": {"name": "E"}, "mark": {"type": "point", "shape": "diamond", "size": 170, "strokeWidth": 2.5, "color": "#0070C0"},
     "encoding": {
      "x": {"field": "x", "type": "quantitative", "scale": {"domain": [0, 3000], "range": [73, 256], "nice": false, "zero": false}, "axis": {"title": "Cycle Life", "values": [0, 1000, 2000, 3000], "tickCount": 20, "format": "d", "offset": -56, "labelPadding": 16, "titlePadding": -3, "labelOverlap": false}},
      "y": {"field": "y", "type": "quantitative", "scale": {"domain": [0.92, 1.1], "range": [266, 10], "nice": false, "zero": false}, "axis": {"title": "D2-1(Ah)", "values": [0.92, 0.94, 0.96, 0.98, 1, 1.02, 1.04, 1.06, 1.08, 1.1], "tickCount": 20, "format": "~g", "offset": -73, "titlePadding": 2, "labelOverlap": false}}}},
    {"data": {"name": "E2"}, "mark": {"type": "point", "shape": "diamond", "size": 170, "strokeWidth": 1, "color": "#4F81BD"},
     "encoding": {"x": {"field": "x", "type": "quantitative"}, "y": {"field": "y", "type": "quantitative"}}},
    {"data": {"values": [{}]}, "mark": {"type": "text", "fontSize": 20}, "encoding": {"x": {"datum": 3180, "type": "quantitative"}, "y": {"datum": 1.0824, "type": "quantitative"}, "text": {"value": "(E)"}}},
    {"data": {"values": [{}]}, "mark": {"type": "text", "fontSize": 19}, "encoding": {"x": {"datum": 1705, "type": "quantitative"}, "y": {"datum": 1.0951, "type": "quantitative"}, "text": {"value": "Pearson’s r = -0.0627"}}}
   ]},
   {"width": 301, "height": 322, "layer": [
    {"data": {"name": "F"}, "mark": {"type": "point", "shape": "square", "size": 210, "strokeWidth": 2, "color": "#FF0000"},
     "encoding": {
      "x": {"field": "x", "type": "quantitative", "scale": {"domain": [0, 3000], "range": [77, 268], "nice": false, "zero": false}, "axis": {"title": "Cycle Life", "values": [0, 1000, 2000, 3000], "tickCount": 20, "format": "d", "offset": -67, "labelPadding": 17, "titlePadding": 7, "labelOverlap": false}},
      "y": {"field": "y", "type": "quantitative", "scale": {"domain": [0.96, 1.12], "range": [255, 17], "nice": false, "zero": false}, "axis": {"title": "C2-1(Ah)", "values": [0.96, 0.98, 1, 1.02, 1.04, 1.06, 1.08, 1.1, 1.12], "tickCount": 20, "format": "~g", "offset": -77, "titlePadding": 7, "labelOverlap": false}}}},
    {"data": {"values": [{}]}, "mark": {"type": "text", "fontSize": 20}, "encoding": {"x": {"datum": 3031, "type": "quantitative"}, "y": {"datum": 1.1072, "type": "quantitative"}, "text": {"value": "(F)"}}},
    {"data": {"values": [{}]}, "mark": {"type": "text", "fontSize": 19}, "encoding": {"x": {"datum": 1963, "type": "quantitative"}, "y": {"datum": 1.0017, "type": "quantitative"}, "text": {"value": "Pearson’s r = -0.562"}}}
   ]},
   {"width": 293, "height": 322, "layer": [
    {"data": {"name": "G"}, "mark": {"type": "point", "shape": "triangle-up", "size": 170, "strokeWidth": 2, "color": "#92D050"},
     "encoding": {
      "x": {"field": "x", "type": "quantitative", "scale": {"domain": [0, 3000], "range": [67, 256], "nice": false, "zero": false}, "axis": {"title": "Cycle life", "values": [0, 1000, 2000, 3000], "tickCount": 20, "format": "d", "offset": -56, "labelPadding": 16, "titlePadding": -3, "labelOverlap": false}},
      "y": {"field": "y", "type": "quantitative", "scale": {"domain": [1, 1.07], "range": [266, 9], "nice": false, "zero": false}, "axis": {"title": "IR2-1(Ω)", "values": [1, 1.01, 1.02, 1.03, 1.04, 1.05, 1.06, 1.07], "tickCount": 20, "format": "~g", "offset": -67, "titlePadding": -9, "labelOverlap": false}}}},
    {"data": {"values": [{}]}, "mark": {"type": "text", "fontSize": 20}, "encoding": {"x": {"datum": 3127, "type": "quantitative"}, "y": {"datum": 1.0621, "type": "quantitative"}, "text": {"value": "(G)"}}},
    {"data": {"values": [{}]}, "mark": {"type": "text", "fontSize": 19}, "encoding": {"x": {"datum": 2048, "type": "quantitative"}, "y": {"datum": 1.0041, "type": "quantitative"}, "text": {"value": "Pearson’s r = 0.132"}}}
   ]},
   {"width": 298, "height": 322, "layer": [
    {"data": {"name": "H"}, "mark": {"type": "point", "shape": "circle", "size": 140, "strokeWidth": 2, "color": "#C00000"},
     "encoding": {
      "x": {"field": "x", "type": "quantitative", "scale": {"domain": [0, 3000], "range": [78, 275], "nice": false, "zero": false}, "axis": {"title": "Cycle Life", "values": [0, 1000, 2000, 3000], "tickCount": 20, "format": "d", "offset": -64, "labelPadding": 15, "titlePadding": 6, "labelOverlap": false}},
      "y": {"field": "y", "type": "quantitative", "scale": {"domain": [0.99, 1.09], "range": [258, 17], "nice": false, "zero": false}, "axis": {"title": "T2-1(°C)", "values": [0.99, 1, 1.01, 1.02, 1.03, 1.04, 1.05, 1.06, 1.07, 1.08, 1.09], "tickCount": 20, "format": "~g", "offset": -78, "titlePadding": 4, "labelOverlap": false}}}},
    {"data": {"values": [{}]}, "mark": {"type": "text", "fontSize": 20}, "encoding": {"x": {"datum": 2787, "type": "quantitative"}, "y": {"datum": 1.0867, "type": "quantitative"}, "text": {"value": "(H)"}}},
    {"data": {"values": [{}]}, "mark": {"type": "text", "fontSize": 19}, "encoding": {"x": {"datum": 1675, "type": "quantitative"}, "y": {"datum": 0.9983, "type": "quantitative"}, "text": {"value": "Pearson’s r = 0.274"}}}
   ]}
  ]}
 ]},
 {"spacing": 1, "hconcat": [
   {"width": 295, "height": 475, "layer": [
    {"data": {"name": "I"}, "mark": {"type": "point", "shape": "diamond", "size": 144, "strokeWidth": 2.5, "color": "#0070C0"},
     "encoding": {
      "x": {"field": "x", "type": "quantitative", "scale": {"domain": [0, 3000], "range": [75, 256], "nice": false, "zero": false}, "axis": {"title": "Cycle Life", "values": [0, 1000, 2000, 3000], "tickCount": 20, "format": "d", "offset": -77, "labelPadding": 18, "titlePadding": 14, "labelOverlap": false}},
      "y": {"field": "y", "type": "quantitative", "scale": {"domain": [0.94, 1.12], "range": [398, 24], "nice": false, "zero": false}, "axis": {"title": "D200-1(Ah)", "values": [0.94, 0.96, 0.98, 1, 1.02, 1.04, 1.06, 1.08, 1.1, 1.12], "tickCount": 20, "format": "~g", "offset": -75, "titlePadding": 4, "labelOverlap": false}}}},
    {"data": {"name": "I2"}, "mark": {"type": "point", "shape": "diamond", "size": 144, "strokeWidth": 1, "color": "#4F81BD"},
     "encoding": {"x": {"field": "x", "type": "quantitative"}, "y": {"field": "y", "type": "quantitative"}}},
    {"data": {"values": [{}]}, "mark": {"type": "text", "fontSize": 20}, "encoding": {"x": {"datum": 2950, "type": "quantitative"}, "y": {"datum": 1.1118, "type": "quantitative"}, "text": {"value": "(I)"}}},
    {"data": {"values": [{}]}, "mark": {"type": "text", "fontSize": 19}, "encoding": {"x": {"datum": 1657, "type": "quantitative"}, "y": {"datum": 1.0271, "type": "quantitative"}, "text": {"value": "Pearson’s r = 0.214"}}}
   ]},
   {"width": 301, "height": 475, "layer": [
    {"data": {"name": "J"}, "mark": {"type": "point", "shape": "square", "size": 190, "strokeWidth": 2, "color": "#FF0000"},
     "encoding": {
      "x": {"field": "x", "type": "quantitative", "scale": {"domain": [0, 3000], "range": [77, 262], "nice": false, "zero": false}, "axis": {"title": "Cycle Life", "values": [0, 1000, 2000, 3000], "tickCount": 20, "format": "d", "offset": -75, "labelPadding": 16, "titlePadding": 14, "labelOverlap": false}},
      "y": {"field": "y", "type": "quantitative", "scale": {"domain": [0.96, 1.12], "range": [400, 24], "nice": false, "zero": false}, "axis": {"title": "C200-1(Ah)", "values": [0.96, 0.98, 1, 1.02, 1.04, 1.06, 1.08, 1.1, 1.12], "tickCount": 20, "format": "~g", "offset": -77, "titlePadding": 7, "labelOverlap": false}}}},
    {"data": {"values": [{}]}, "mark": {"type": "text", "fontSize": 20}, "encoding": {"x": {"datum": 3081, "type": "quantitative"}, "y": {"datum": 1.1136, "type": "quantitative"}, "text": {"value": "(J)"}}},
    {"data": {"values": [{}]}, "mark": {"type": "text", "fontSize": 19}, "encoding": {"x": {"datum": 2011, "type": "quantitative"}, "y": {"datum": 1.0102, "type": "quantitative"}, "text": {"value": "Pearson’s r = 0.0235"}}}
   ]},
   {"width": 293, "height": 475, "layer": [
    {"data": {"name": "K"}, "mark": {"type": "point", "shape": "triangle-up", "size": 190, "strokeWidth": 2, "color": "#92D050"},
     "encoding": {
      "x": {"field": "x", "type": "quantitative", "scale": {"domain": [0, 4000], "range": [82, 258], "nice": false, "zero": false}, "axis": {"title": "Cycle life", "values": [0, 2000, 4000], "tickCount": 20, "format": "d", "offset": -96, "labelPadding": 17, "titlePadding": 23, "labelOverlap": false}},
      "y": {"field": "y", "type": "quantitative", "scale": {"domain": [1, 1.07], "range": [379, 16], "nice": false, "zero": false}, "axis": {"title": "IR200-1(Ω)", "values": [1, 1.01, 1.02, 1.03, 1.04, 1.05, 1.06, 1.07], "tickCount": 20, "format": "~g", "offset": -82, "titlePadding": 8, "labelOverlap": false}}}},
    {"data": {"values": [{}]}, "mark": {"type": "text", "fontSize": 20}, "encoding": {"x": {"datum": 4023, "type": "quantitative"}, "y": {"datum": 1.0661, "type": "quantitative"}, "text": {"value": "(K)"}}},
    {"data": {"values": [{}]}, "mark": {"type": "text", "fontSize": 19}, "encoding": {"x": {"datum": 2182, "type": "quantitative"}, "y": {"datum": 1.0044, "type": "quantitative"}, "text": {"value": "Pearson’s r = 0.180"}}}
   ]},
   {"width": 298, "height": 475, "layer": [
    {"data": {"name": "L"}, "mark": {"type": "point", "shape": "circle", "size": 140, "strokeWidth": 2, "color": "#C00000"},
     "encoding": {
      "x": {"field": "x", "type": "quantitative", "scale": {"domain": [0, 3000], "range": [75, 268], "nice": false, "zero": false}, "axis": {"title": "Cycle Life", "values": [0, 1000, 2000, 3000], "tickCount": 20, "format": "d", "offset": -98, "labelPadding": 18, "titlePadding": 22, "labelOverlap": false}},
      "y": {"field": "y", "type": "quantitative", "scale": {"domain": [0.99, 1.09], "range": [377, 25], "nice": false, "zero": false}, "axis": {"title": "T200-1(°C)", "values": [0.99, 1, 1.01, 1.02, 1.03, 1.04, 1.05, 1.06, 1.07, 1.08, 1.09], "tickCount": 20, "format": "~g", "offset": -75, "titlePadding": 3, "labelOverlap": false}}}},
    {"data": {"values": [{}]}, "mark": {"type": "text", "fontSize": 20}, "encoding": {"x": {"datum": 2549, "type": "quantitative"}, "y": {"datum": 1.0903, "type": "quantitative"}, "text": {"value": "(L)"}}},
    {"data": {"values": [{}]}, "mark": {"type": "text", "fontSize": 19}, "encoding": {"x": {"datum": 1601, "type": "quantitative"}, "y": {"datum": 1.0025, "type": "quantitative"}, "text": {"value": "Pearson’s r = 0.004"}}}
   ]}
 ]}
]
}
